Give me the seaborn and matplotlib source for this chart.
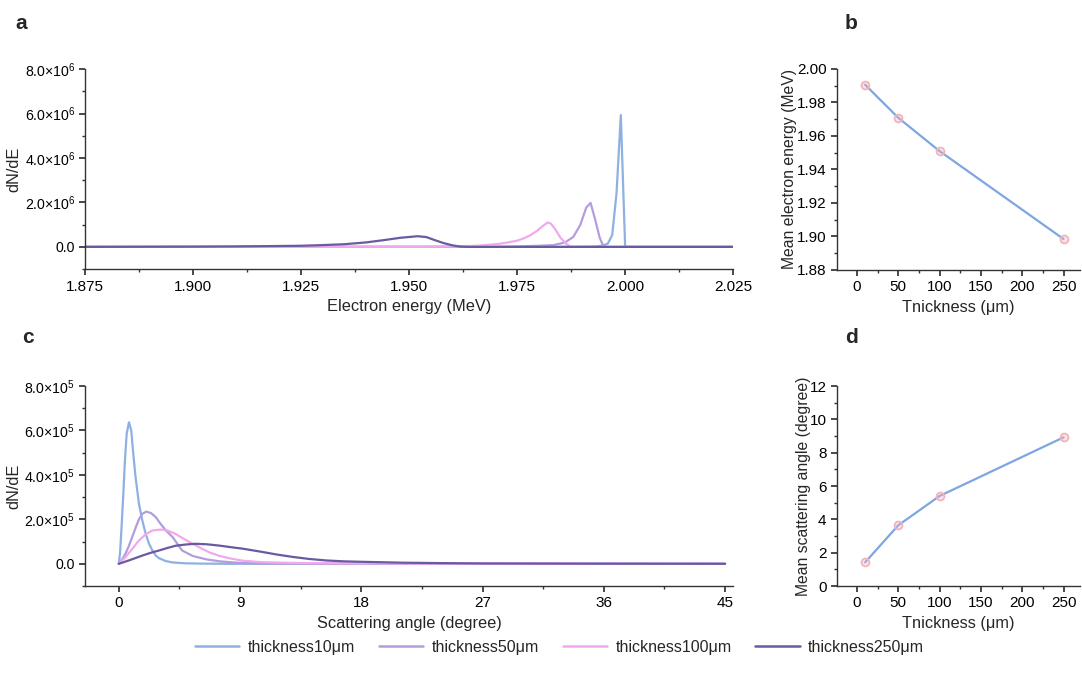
import matplotlib
matplotlib.use("Agg")
import matplotlib.pyplot as plt
import matplotlib.ticker as mticker
import numpy as np
import pandas as pd
import seaborn as sns

# ---- data ----
labels = ["thickness10\u03bcm", "thickness50\u03bcm", "thickness100\u03bcm", "thickness250\u03bcm"]
colors = ["#8eb1e2", "#b39ddf", "#f0a9ec", "#6a5a9f"]

# panel a: energy spectra (MeV, dN/dE)
e10 = [1.875, 1.985, 1.990, 1.993, 1.994, 1.995, 1.996, 1.997, 1.998, 1.999, 2.000, 2.025]
n10 = [0, 0, 0.01e6, 0.02e6, 0.04e6, 0.07e6, 0.15e6, 0.53e6, 2.4e6, 5.93e6, 0, 0]
e50 = [1.875, 1.970, 1.975, 1.980, 1.9834, 1.9861, 1.988, 1.9896, 1.991, 1.992, 1.9931, 1.9941, 1.9948, 1.9955, 2.025]
n50 = [0, 0.005e6, 0.02e6, 0.05e6, 0.08e6, 0.2e6, 0.45e6, 0.98e6, 1.77e6, 1.98e6, 1.2e6, 0.42e6, 0.1e6, 0, 0]
e100 = [1.875, 1.950, 1.955, 1.960, 1.964, 1.9664, 1.9688, 1.971, 1.9726, 1.975, 1.9765, 1.978, 1.9796,
        1.981, 1.9821, 1.9828, 1.9838, 1.985, 1.9864, 1.9873, 1.988, 2.025]
n100 = [0, 0.002e6, 0.005e6, 0.02e6, 0.04e6, 0.06e6, 0.1e6, 0.14e6, 0.19e6, 0.28e6, 0.38e6, 0.52e6, 0.72e6,
        0.95e6, 1.10e6, 1.05e6, 0.8e6, 0.42e6, 0.13e6, 0.02e6, 0, 0]
e250 = [1.875, 1.900, 1.910, 1.920, 1.925, 1.930, 1.935, 1.940, 1.944, 1.948, 1.952, 1.954, 1.956, 1.958, 1.960, 1.962, 1.964, 2.025]
n250 = [0, 0.01e6, 0.02e6, 0.04e6, 0.05e6, 0.08e6, 0.12e6, 0.2e6, 0.3e6, 0.41e6, 0.48e6, 0.44e6, 0.30e6, 0.17e6, 0.07e6, 0.01e6, 0, 0]

# panel c: angular distributions (degree, dN/dE)
t10 = [0, 0.1, 0.21, 0.34, 0.46, 0.59, 0.76, 0.93, 1.08, 1.25, 1.5, 1.75, 2.0, 2.25, 2.5, 2.75, 3.0, 3.5, 4.0, 5.0, 6.0, 8.0, 45]
a10 = [0, 0.5e5, 1.65e5, 3.15e5, 4.65e5, 5.85e5, 6.37e5, 6.0e5, 4.95e5, 3.9e5, 2.7e5, 1.95e5, 1.35e5, 0.9e5,
       0.6e5, 0.37e5, 0.25e5, 0.12e5, 0.06e5, 0.02e5, 0.01e5, 0, 0]
t50 = [0, 0.25, 0.5, 0.75, 1.0, 1.25, 1.5, 1.75, 2.05, 2.4, 2.75, 3.1, 3.5, 4.0, 4.7, 5.5, 6.5, 7.5, 8.5, 9.5, 12, 16, 45]
a50 = [0, 0.2e5, 0.45e5, 0.8e5, 1.2e5, 1.62e5, 2.0e5, 2.25e5, 2.35e5, 2.28e5, 2.1e5, 1.8e5, 1.5e5, 1.2e5,
       0.6e5, 0.35e5, 0.2e5, 0.11e5, 0.06e5, 0.03e5, 0.01e5, 0, 0]
t100 = [0, 0.5, 1.0, 1.5, 2.0, 2.5, 3.1, 3.6, 4.2, 4.8, 5.5, 6.1, 6.7, 7.4, 8.2, 9.2, 10.4, 12, 14, 18, 24, 45]
a100 = [0, 0.3e5, 0.67e5, 1.05e5, 1.33e5, 1.5e5, 1.54e5, 1.5e5, 1.35e5, 1.13e5, 0.9e5, 0.7e5, 0.52e5, 0.37e5,
        0.25e5, 0.14e5, 0.08e5, 0.05e5, 0.03e5, 0.015e5, 0.005e5, 0]
t250 = [0, 0.75, 1.75, 2.4, 3.0, 3.6, 4.2, 5.0, 5.7, 6.5, 7.45, 8.3, 9.2, 10.5, 11.7, 12.9, 14.1, 15.4, 16.7,
        18, 21, 24, 27, 36, 45]
a250 = [0, 0.15e5, 0.37e5, 0.5e5, 0.6e5, 0.71e5, 0.81e5, 0.87e5, 0.9e5, 0.88e5, 0.82e5, 0.75e5, 0.68e5, 0.55e5,
        0.42e5, 0.31e5, 0.22e5, 0.15e5, 0.11e5, 0.09e5, 0.05e5, 0.03e5, 0.015e5, 0.005e5, 0]

# panels b, d: mean values vs thickness
thick = [10, 50, 100, 250]
mean_energy = [1.9906, 1.9709, 1.951, 1.8985]
mean_angle = [1.42, 3.64, 5.40, 8.92]

# ---- style ----
sns.set_theme(style="ticks")
plt.rcParams["font.family"] = ["Liberation Sans", "DejaVu Sans"]
plt.rcParams["mathtext.default"] = "regular"
plt.rcParams["axes.linewidth"] = 1.0
plt.rcParams["xtick.major.size"] = 4
plt.rcParams["ytick.major.size"] = 4
plt.rcParams["xtick.minor.size"] = 2.5
plt.rcParams["ytick.minor.size"] = 2.5
plt.rcParams["xtick.labelsize"] = 11
plt.rcParams["ytick.labelsize"] = 11
plt.rcParams["axes.labelsize"] = 11.8


def sci_fmt(val, pos):
    if abs(val) < 1e-12:
        return "0.0"
    e = int(np.floor(np.log10(abs(val))))
    return f"{val / 10**e:.1f}\u00d710$^{{{e}}}$"


def long_df(xs, ys):
    parts = []
    for lab, x, y in zip(labels, xs, ys):
        parts.append(pd.DataFrame({"x": x, "y": y, "series": lab}))
    return pd.concat(parts, ignore_index=True)


fig = plt.figure(figsize=(10.82, 6.83), dpi=100)
ax_a = fig.add_axes([0.0786, 0.606, 0.599, 0.2928])
ax_c = fig.add_axes([0.0786, 0.142, 0.599, 0.2928])
ax_b = fig.add_axes([0.7736, 0.6047, 0.2246, 0.2943])
ax_d = fig.add_axes([0.7736, 0.142, 0.2246, 0.2928])

pal = dict(zip(labels, colors))

# panel a
df_a = long_df([e10, e50, e100, e250], [n10, n50, n100, n250])
sns.lineplot(data=df_a, x="x", y="y", hue="series", palette=pal, estimator=None,
             linewidth=1.6, legend=False, ax=ax_a)
ax_a.set_xlim(1.875, 2.025)
ax_a.set_ylim(-1e6, 8e6)
ax_a.xaxis.set_major_locator(mticker.MultipleLocator(0.025))
ax_a.xaxis.set_minor_locator(mticker.MultipleLocator(0.0125))
ax_a.xaxis.set_major_formatter(mticker.FormatStrFormatter("%.3f"))
ax_a.yaxis.set_major_locator(mticker.FixedLocator([0, 2e6, 4e6, 6e6, 8e6]))
ax_a.yaxis.set_minor_locator(mticker.MultipleLocator(1e6))
ax_a.yaxis.set_major_formatter(mticker.FuncFormatter(sci_fmt))
ax_a.set_xlabel("Electron energy (MeV)")
ax_a.set_ylabel("dN/dE")

# panel c
df_c = long_df([t10, t50, t100, t250], [a10, a50, a100, a250])
sns.lineplot(data=df_c, x="x", y="y", hue="series", palette=pal, estimator=None,
             linewidth=1.6, legend=False, ax=ax_c)
ax_c.set_xlim(-2.5, 45.6)
ax_c.set_ylim(-1e5, 8e5)
ax_c.xaxis.set_major_locator(mticker.MultipleLocator(9))
ax_c.xaxis.set_minor_locator(mticker.MultipleLocator(4.5))
ax_c.yaxis.set_major_locator(mticker.FixedLocator([0, 2e5, 4e5, 6e5, 8e5]))
ax_c.yaxis.set_minor_locator(mticker.MultipleLocator(1e5))
ax_c.yaxis.set_major_formatter(mticker.FuncFormatter(sci_fmt))
ax_c.set_xlabel("Scattering angle (degree)")
ax_c.set_ylabel("dN/dE")

for ax in [ax_a, ax_c]:
    ax.tick_params(axis="y", labelsize=10.2, pad=3)
    ax.yaxis.set_label_coords(-0.098, 0.5)

# panels b and d
for ax, vals in [(ax_b, mean_energy), (ax_d, mean_angle)]:
    sns.lineplot(x=thick, y=vals, color="#7ea6e0", linewidth=1.6, ax=ax)
    sns.scatterplot(x=thick, y=vals, s=32, facecolor=(0.96, 0.70, 0.74, 0.35),
                    edgecolor="#f2b4ba", linewidth=1.3, zorder=3, ax=ax)
    ax.set_xlim(-24, 270)
    ax.xaxis.set_major_locator(mticker.MultipleLocator(50))
    ax.xaxis.set_minor_locator(mticker.MultipleLocator(25))
    ax.set_xlabel("Tnickness (\u03bcm)")

ax_b.set_ylim(1.88, 2.00)
ax_b.yaxis.set_major_locator(mticker.MultipleLocator(0.02))
ax_b.yaxis.set_minor_locator(mticker.MultipleLocator(0.01))
ax_b.yaxis.set_major_formatter(mticker.FormatStrFormatter("%.2f"))
ax_b.set_ylabel("Mean electron energy (MeV)", fontsize=11.3)
ax_b.yaxis.set_label_coords(-0.165, 0.5)

ax_d.set_ylim(0, 12)
ax_d.yaxis.set_major_locator(mticker.MultipleLocator(2))
ax_d.yaxis.set_minor_locator(mticker.MultipleLocator(1))
ax_d.set_ylabel("Mean scattering angle (degree)", fontsize=11.3)
ax_d.yaxis.set_label_coords(-0.108, 0.5)

for ax in [ax_a, ax_b, ax_c, ax_d]:
    sns.despine(ax=ax)
    ax.tick_params(which="both", direction="out", colors="#333333", labelcolor="black")
    for sp in ["left", "bottom"]:
        ax.spines[sp].set_color("#333333")

# panel letters
for txt, x, y in [("a", 0.014, 0.966), ("b", 0.781, 0.966), ("c", 0.020, 0.506), ("d", 0.781, 0.506)]:
    fig.text(x, y, txt, fontsize=15, fontweight="bold", va="center")

# legend
handles = [plt.Line2D([], [], color=c, linewidth=1.8) for c in colors]
fig.legend(handles, labels, loc="center", bbox_to_anchor=(0.517, 0.052), ncol=4,
           frameon=False, fontsize=11.5, handlelength=2.8, columnspacing=1.5, handletextpad=0.5)

fig.savefig("out.png", dpi=100)
